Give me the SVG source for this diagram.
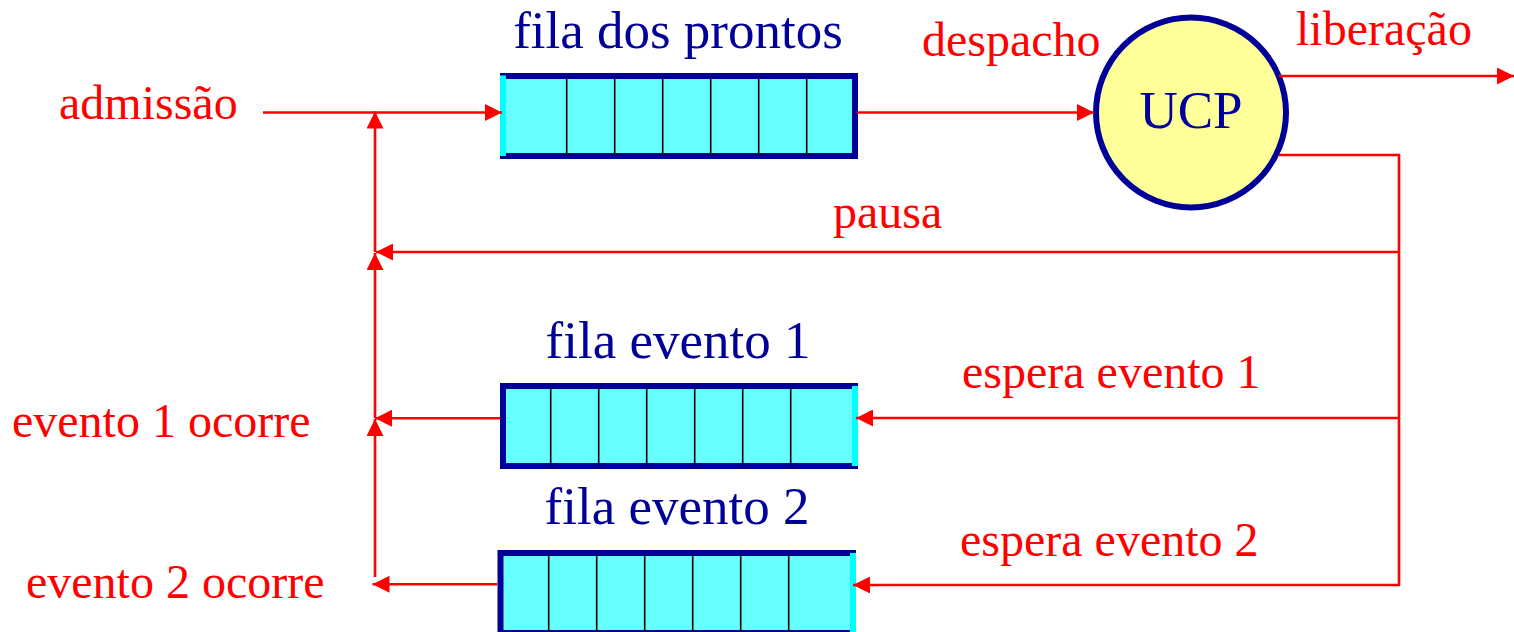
<svg xmlns="http://www.w3.org/2000/svg" width="1514" height="632" viewBox="0 0 1514 632">
<style>
.red{fill:#FF0000;font-family:"Liberation Serif","Times New Roman",serif;font-size:48px}
.blue{fill:#000099;font-family:"Liberation Serif","Times New Roman",serif;font-size:53px}
.outer{fill:#000099}
.inner{fill:#66FFFF}
.strip{fill:#00FFFF}
.div{stroke:#000000;stroke-width:1.6}
.conn{fill:none;stroke:#FF0000;stroke-width:2.6}
</style>
<defs>
<marker id="arr" markerUnits="userSpaceOnUse" markerWidth="17" markerHeight="17" refX="17" refY="8.5" orient="auto" viewBox="0 0 17 17">
<path d="M0,0 L17,8.5 L0,17 z" fill="#FF0000"/>
</marker>
</defs>
<rect width="1514" height="632" fill="#FFFFFF"/>

<g id="fila-prontos">
<rect class="outer" x="500" y="73" width="358" height="86"/>
<rect class="inner" x="506" y="79" width="346" height="74"/>
<rect class="strip" x="500" y="75.5" width="6" height="80.5"/>
<g class="div">
<line x1="566.7" y1="77" x2="566.7" y2="155"/>
<line x1="614.7" y1="77" x2="614.7" y2="155"/>
<line x1="662.7" y1="77" x2="662.7" y2="155"/>
<line x1="710.7" y1="77" x2="710.7" y2="155"/>
<line x1="758.7" y1="77" x2="758.7" y2="155"/>
<line x1="806.7" y1="77" x2="806.7" y2="155"/>
</g>
<text class="blue" x="678" y="48" text-anchor="middle">fila dos prontos</text>
</g>

<g id="fila-evento1">
<rect class="outer" x="500" y="383" width="358" height="86"/>
<rect class="inner" x="506" y="389" width="346" height="74"/>
<rect class="strip" x="852" y="386" width="6" height="80"/>
<g class="div">
<line x1="550.7" y1="387" x2="550.7" y2="465"/>
<line x1="598.7" y1="387" x2="598.7" y2="465"/>
<line x1="646.7" y1="387" x2="646.7" y2="465"/>
<line x1="694.7" y1="387" x2="694.7" y2="465"/>
<line x1="742.7" y1="387" x2="742.7" y2="465"/>
<line x1="790.7" y1="387" x2="790.7" y2="465"/>
</g>
<text class="blue" x="678" y="358" text-anchor="middle">fila evento 1</text>
</g>

<g id="fila-evento2">
<rect class="outer" x="497.5" y="550" width="358.5" height="86"/>
<rect class="inner" x="503.5" y="556" width="346.5" height="74"/>
<rect class="strip" x="850" y="553" width="6" height="80"/>
<g class="div">
<line x1="548.7" y1="554" x2="548.7" y2="632"/>
<line x1="596.7" y1="554" x2="596.7" y2="632"/>
<line x1="644.7" y1="554" x2="644.7" y2="632"/>
<line x1="692.7" y1="554" x2="692.7" y2="632"/>
<line x1="740.7" y1="554" x2="740.7" y2="632"/>
<line x1="788.7" y1="554" x2="788.7" y2="632"/>
</g>
<text class="blue" x="677" y="524" text-anchor="middle">fila evento 2</text>
</g>

<g id="ucp">
<circle cx="1191" cy="112.5" r="95" fill="#FFFF99" stroke="#000099" stroke-width="6"/>
<text class="blue" x="1191" y="128" text-anchor="middle">UCP</text>
</g>

<g id="connectors">
<path class="conn" d="M263,112.5 H502" marker-end="url(#arr)"/>
<path class="conn" d="M857,112.5 H1094" marker-end="url(#arr)"/>
<path class="conn" d="M1279,76 H1514" marker-end="url(#arr)"/>
<path class="conn" d="M1279,155 H1399 V585"/>
<path class="conn" d="M1399,252 H376" marker-end="url(#arr)"/>
<path class="conn" d="M1399,418 H856" marker-end="url(#arr)"/>
<path class="conn" d="M1400,585 H853" marker-end="url(#arr)"/>
<path class="conn" d="M500,418.3 H375" marker-end="url(#arr)"/>
<path class="conn" d="M497,584.3 H372.5" marker-end="url(#arr)"/>
<path class="conn" d="M375,577 V419" marker-end="url(#arr)"/>
<path class="conn" d="M375,418 V253" marker-end="url(#arr)"/>
<path class="conn" d="M375,252 V111.5" marker-end="url(#arr)"/>
</g>

<g id="labels">
<text class="red" x="59" y="119">admissão</text>
<text class="red" x="922" y="56">despacho</text>
<text class="red" x="1296" y="45">liberação</text>
<text class="red" x="833" y="228">pausa</text>
<text class="red" x="962" y="388">espera evento 1</text>
<text class="red" x="960" y="556">espera evento 2</text>
<text class="red" x="12" y="437">evento 1 ocorre</text>
<text class="red" x="26" y="598">evento 2 ocorre</text>
</g>
</svg>
